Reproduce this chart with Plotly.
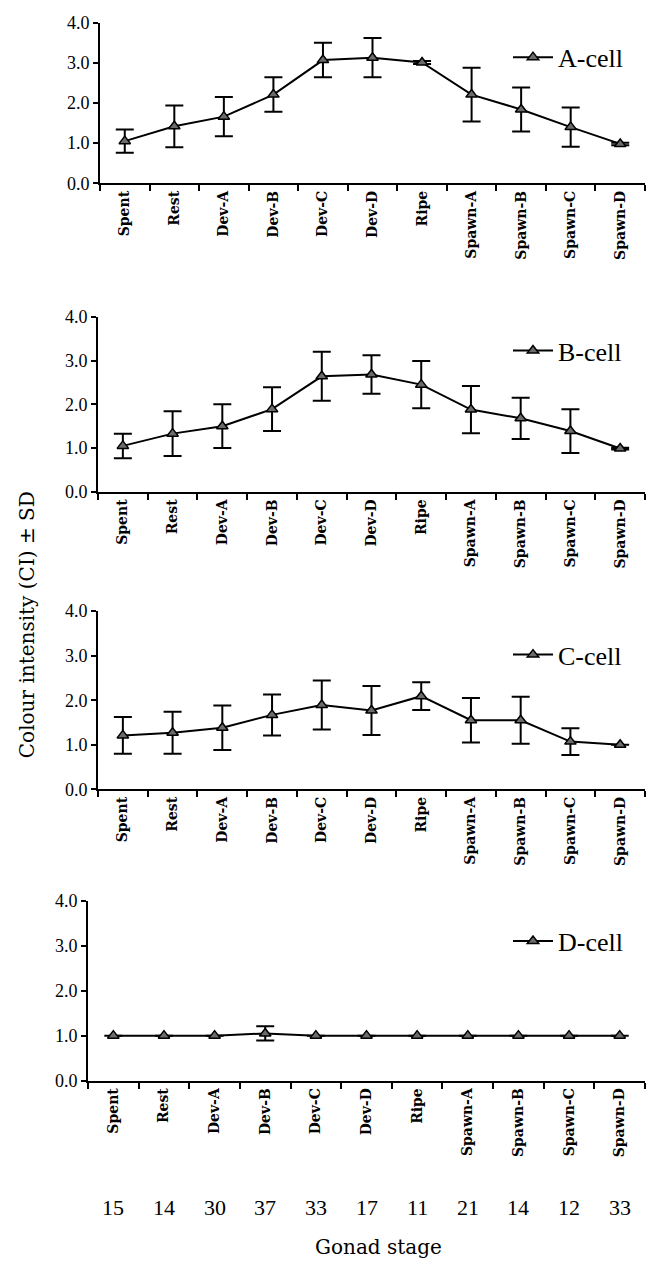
import plotly.graph_objects as go

# ---------------- data ----------------
stages = ["Spent", "Rest", "Dev-A", "Dev-B", "Dev-C", "Dev-D", "Ripe",
          "Spawn-A", "Spawn-B", "Spawn-C", "Spawn-D"]
n_samples = [15, 14, 30, 37, 33, 17, 11, 21, 14, 12, 33]

a_mean = [1.05, 1.42, 1.66, 2.21, 3.07, 3.13, 3.01, 2.21, 1.84, 1.40, 0.98]
a_sd   = [0.29, 0.52, 0.49, 0.43, 0.43, 0.49, 0.04, 0.67, 0.55, 0.49, 0.03]

b_mean = [1.05, 1.33, 1.50, 1.89, 2.64, 2.68, 2.45, 1.88, 1.68, 1.39, 0.99]
b_sd   = [0.28, 0.51, 0.50, 0.50, 0.56, 0.44, 0.54, 0.54, 0.47, 0.50, 0.02]

c_mean = [1.21, 1.27, 1.38, 1.67, 1.89, 1.77, 2.09, 1.55, 1.55, 1.07, 1.00]
c_sd   = [0.41, 0.47, 0.50, 0.46, 0.55, 0.55, 0.31, 0.50, 0.53, 0.30, 0.00]

d_mean = [1.00, 1.00, 1.00, 1.05, 1.00, 1.00, 1.00, 1.00, 1.00, 1.00, 1.00]
d_sd   = [0.00, 0.00, 0.00, 0.16, 0.00, 0.00, 0.00, 0.00, 0.00, 0.00, 0.00]

series_names = ["A-cell", "B-cell", "C-cell", "D-cell"]
y_ticks = [0, 1, 2, 3, 4]

# ---------------- layout geometry (pixels) ----------------
W, H = 647, 1274
panels = [  # (x_left, x_right, y_top(4.0), y_bottom(0.0), legend_y)
    (100, 645, 13, 176, 48),
    (98, 645, 311.7, 489.5, 346),
    (98, 645, 610.7, 791.7, 655),
    (88, 645, 905, 1087.7, 946),
]

SERIF = "Liberation Serif, Times New Roman, serif"
TITLE_FONT = "DejaVu Serif, Palatino Linotype, serif"

fig = go.Figure()
means = [a_mean, b_mean, c_mean, d_mean]
sds = [a_sd, b_sd, c_sd, d_sd]

layout = dict(
    width=W, height=H,
    margin=dict(l=0, r=0, t=0, b=0),
    paper_bgcolor="white", plot_bgcolor="white",
    showlegend=True,
)

for i, (xl, xr, yt, yb, ly) in enumerate(panels):
    k = "" if i == 0 else str(i + 1)
    leg = "legend" if i == 0 else f"legend{i+1}"
    fig.add_trace(go.Scatter(
        x=stages, y=means[i], name=series_names[i],
        mode="lines+markers",
        line=dict(color="black", width=2),
        marker=dict(symbol="triangle-up", size=10, color="#6b6b6b",
                    line=dict(color="black", width=1.5)),
        error_y=dict(type="data", array=sds[i], visible=True,
                     color="black", thickness=2, width=9),
        cliponaxis=False,
        xaxis="x" + k, yaxis="y" + k,
        legend=leg,
    ))
    layout["xaxis" + k] = dict(
        domain=[xl / W, xr / W], anchor="y" + k,
        type="category", categoryorder="array", categoryarray=stages,
        range=[-0.5, 10.5], tickson="boundaries",
        ticks="outside", ticklen=6, tickwidth=2, tickcolor="black",
        showline=True, linecolor="black", linewidth=2,
        showgrid=False, zeroline=False, tickangle=-90,
        tickfont=dict(family="DejaVu Serif, serif", size=14, color="black",
                      weight="bold"),
        fixedrange=True,
    )
    layout["yaxis" + k] = dict(
        domain=[1 - yb / H, 1 - yt / H], anchor="x" + k,
        range=[0, 4], tickvals=y_ticks, tickformat=".1f",
        ticks="outside", ticklen=5, tickwidth=2, tickcolor="black",
        showline=True, linecolor="black", linewidth=2,
        showgrid=False, zeroline=False,
        tickfont=dict(family=SERIF, size=18, color="black"),
        fixedrange=True,
    )
    layout[leg] = dict(
        x=508 / W, y=1 - ly / H, xanchor="left", yanchor="middle",
        bgcolor="rgba(0,0,0,0)", borderwidth=0,
        font=dict(family=SERIF, size=26, color="black"),
        itemwidth=40, tracegroupgap=0,
    )

annotations = []
for s, n in zip(stages, n_samples):
    annotations.append(dict(
        x=s, xref="x4", y=1 - 1217 / H, yref="paper",
        text=str(n), showarrow=False, xanchor="center", yanchor="middle",
        font=dict(family=SERIF, size=22, color="black"),
    ))
annotations.append(dict(
    x=378 / W, xref="paper", y=1 - 1257 / H, yref="paper",
    text="Gonad stage", showarrow=False, xanchor="center", yanchor="middle",
    font=dict(family=TITLE_FONT, size=20, color="black"),
))
annotations.append(dict(
    x=27 / W, xref="paper", y=1 - 625 / H, yref="paper",
    text="Colour intensity (CI) ± SD", showarrow=False, textangle=-90,
    xanchor="center", yanchor="middle",
    font=dict(family=TITLE_FONT, size=20, color="black"),
))
layout["annotations"] = annotations

fig.update_layout(**layout)
fig.write_html("out.html")
